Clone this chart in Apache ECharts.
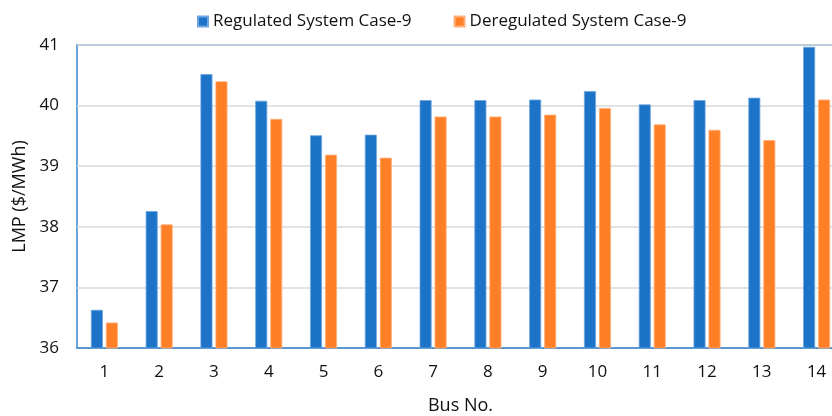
<!DOCTYPE html>
<html>
<head>
<meta charset="utf-8">
<script src="https://cdn.jsdelivr.net/npm/echarts@6/dist/echarts.min.js"></script>
<style>html,body{margin:0;padding:0;background:#fff;}#c{width:832px;height:416px;}</style>
</head>
<body>
<div id="c"></div>
<script>
const categories = ['1','2','3','4','5','6','7','8','9','10','11','12','13','14'];
const regulated = [36.63, 38.26, 40.52, 40.08, 39.51, 39.52, 40.09, 40.09, 40.10, 40.24, 40.02, 40.09, 40.13, 40.97];
const deregulated = [36.42, 38.04, 40.40, 39.78, 39.19, 39.14, 39.82, 39.82, 39.85, 39.96, 39.69, 39.60, 39.43, 40.10];
const seriesNames = ['Regulated System Case-9', 'Deregulated System Case-9'];

const FONT = 'Open Sans';
const chart = echarts.init(document.getElementById('c'), null, {renderer: 'canvas'});
chart.setOption({
  animation: false,
  textStyle: {fontFamily: FONT},
  legend: {
    top: 8,
    left: 192,
    itemWidth: 10,
    itemHeight: 10,
    itemGap: 42,
    icon: 'rect',
    textStyle: {fontFamily: FONT, fontSize: 17, color: '#111'},
    data: seriesNames
  },
  grid: {left: 77, right: -12, top: 45, bottom: 68, show: true, borderColor: '#3a86d0', borderWidth: 1.5,
         containLabel: false, outerBoundsMode: 'none'},
  xAxis: {
    type: 'category',
    data: categories,
    name: 'Bus No.',
    nameLocation: 'middle',
    nameGap: 49,
    nameTextStyle: {fontFamily: FONT, fontSize: 18, color: '#111'},
    axisLine: {lineStyle: {color: '#3a86d0', width: 1.5}},
    axisTick: {show: false},
    axisLabel: {fontFamily: FONT, fontSize: 17, color: '#111', margin: 16}
  },
  yAxis: {
    type: 'value',
    min: 36, max: 41, interval: 1,
    name: 'LMP ($/MWh)',
    nameLocation: 'middle',
    nameGap: 46,
    nameTextStyle: {fontFamily: FONT, fontSize: 18, color: '#111'},
    axisLine: {show: false},
    axisTick: {show: false},
    splitLine: {lineStyle: {color: '#d9d9d9', width: 1.5}},
    axisLabel: {fontFamily: FONT, fontSize: 17, color: '#111', margin: 18}
  },
  series: [
    {name: seriesNames[0], type: 'bar', data: regulated, barWidth: 12, barGap: '25%',
     itemStyle: {color: '#1c73c8', borderColor: '#6fa6e0', borderWidth: 0.8}},
    {name: seriesNames[1], type: 'bar', data: deregulated, barWidth: 12, barGap: '25%',
     itemStyle: {color: '#ff7f27', borderColor: '#ffb07a', borderWidth: 0.8}}
  ]
});
</script>
</body>
</html>
